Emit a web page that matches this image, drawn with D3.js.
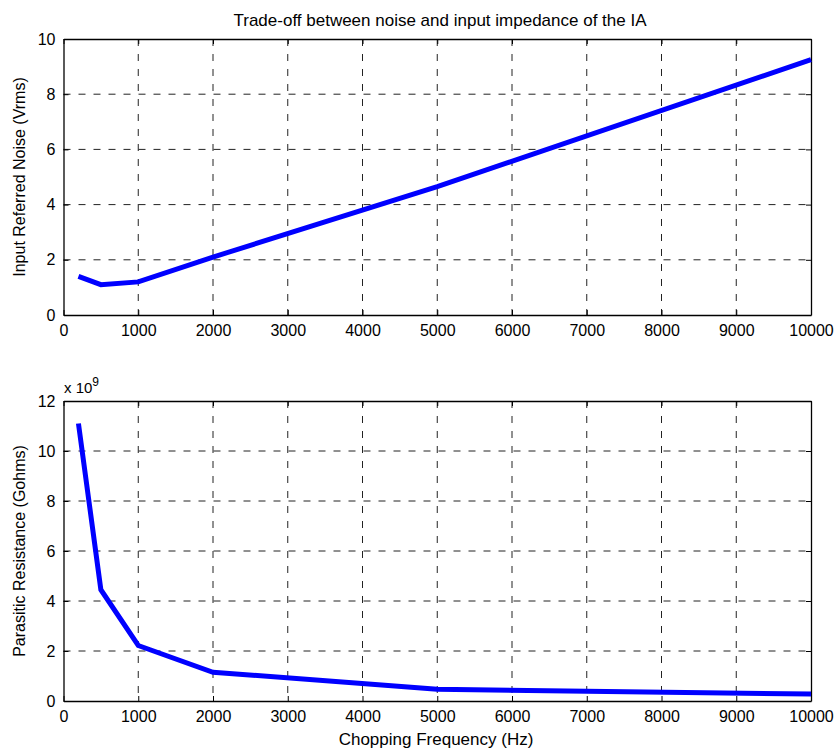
<!DOCTYPE html>
<html>
<head>
<meta charset="utf-8">
<script src="https://cdn.jsdelivr.net/npm/d3@7"></script>
<style>
  body { margin: 0; background: #fff; }
  svg text { font-family: "Liberation Sans", Arial, sans-serif; fill: #000; }
</style>
</head>
<body>
<div id="chart"></div>
<script>
// chopping frequencies (Hz)
const freqs = [200, 500, 1000, 2000, 5000, 10000];
// input referred noise (Vrms)
const noise = [1.4, 1.1, 1.2, 2.1, 4.65, 9.25];
// parasitic resistance (x 1e9 ohms)
const resistance = [11.1, 4.45, 2.22, 1.15, 0.47, 0.28];

const xTicks = [0, 1000, 2000, 3000, 4000, 5000, 6000, 7000, 8000, 9000, 10000];
const noiseTicks = [0, 2, 4, 6, 8, 10];
const resTicks = [0, 2, 4, 6, 8, 10, 12];

const W = 838, H = 752;

let svg = d3.select("#chart").append("svg")
    .attr("width", W)
    .attr("height", H);

function drawPanel(top, bottom, values, yTicks, yMax, yLabel) {
    let left = 63.5, right = 811;

    let x = d3.scaleLinear().domain([0, 10000]).range([left, right]);
    let y = d3.scaleLinear().domain([0, yMax]).range([bottom, top]);

    let g = svg.append("g");

    // grid
    g.selectAll(".vgrid")
        .data(xTicks.slice(1, -1))
        .enter().append("line")
        .attr("x1", d => x(d)).attr("x2", d => x(d))
        .attr("y1", top).attr("y2", bottom)
        .attr("stroke", "#222").attr("stroke-width", 1)
        .attr("stroke-dasharray", "7,8");

    g.selectAll(".hgrid")
        .data(yTicks.slice(1, -1))
        .enter().append("line")
        .attr("x1", left).attr("x2", right)
        .attr("y1", d => y(d)).attr("y2", d => y(d))
        .attr("stroke", "#222").attr("stroke-width", 1)
        .attr("stroke-dasharray", "7,8");

    // axes (ticks inside, matlab style)
    let xb = g.append("g")
        .attr("transform", "translate(0," + bottom + ")")
        .call(d3.axisBottom(x).tickValues(xTicks).tickFormat(d3.format("d"))
            .tickSizeInner(-5).tickSizeOuter(0).tickPadding(10));
    let xt = g.append("g")
        .attr("transform", "translate(0," + top + ")")
        .call(d3.axisTop(x).tickValues(xTicks).tickSizeInner(-5).tickSizeOuter(0).tickFormat(""));
    let yl = g.append("g")
        .attr("transform", "translate(" + left + ",0)")
        .call(d3.axisLeft(y).tickValues(yTicks).tickSizeInner(-5).tickSizeOuter(0).tickPadding(8));
    let yr = g.append("g")
        .attr("transform", "translate(" + right + ",0)")
        .call(d3.axisRight(y).tickValues(yTicks).tickSizeInner(-5).tickSizeOuter(0).tickFormat(""));

    [xb, xt, yl, yr].forEach(a => {
        a.selectAll("path").attr("stroke", "#000").attr("stroke-width", 1.3);
        a.selectAll("line").attr("stroke", "#000");
        a.selectAll("text").style("font-size", "16px").attr("fill", "#000")
            .style("font-family", "'Liberation Sans', Arial, sans-serif");
    });

    // data line
    let line = d3.line()
        .x((d, i) => x(freqs[i]))
        .y(d => y(d));

    g.append("path")
        .datum(values)
        .attr("d", line)
        .attr("fill", "none")
        .attr("stroke", "#0000ff")
        .attr("stroke-width", 5)
        .attr("stroke-linejoin", "miter");

    // y label
    g.append("text")
        .attr("transform", "translate(25," + ((top + bottom) / 2) + ") rotate(-90)")
        .attr("text-anchor", "middle")
        .style("font-size", "16px")
        .text(yLabel);

    return {x, y};
}

drawPanel(39, 315, noise, noiseTicks, 10, "Input Referred Noise (Vrms)");
drawPanel(401, 701, resistance, resTicks, 12, "Parasitic Resistance (Gohms)");

// title
svg.append("text")
    .attr("x", 440).attr("y", 26)
    .attr("text-anchor", "middle")
    .style("font-size", "17px")
    .text("Trade-off between noise and input impedance of the IA");

// exponent label
let expo = svg.append("text")
    .attr("x", 64).attr("y", 393)
    .style("font-size", "15px");
expo.append("tspan").text("x 10");
expo.append("tspan").attr("dy", -7).style("font-size", "12px").text("9");

// x label
svg.append("text")
    .attr("x", 436).attr("y", 745)
    .attr("text-anchor", "middle")
    .style("font-size", "17px")
    .text("Chopping Frequency (Hz)");
</script>
</body>
</html>
